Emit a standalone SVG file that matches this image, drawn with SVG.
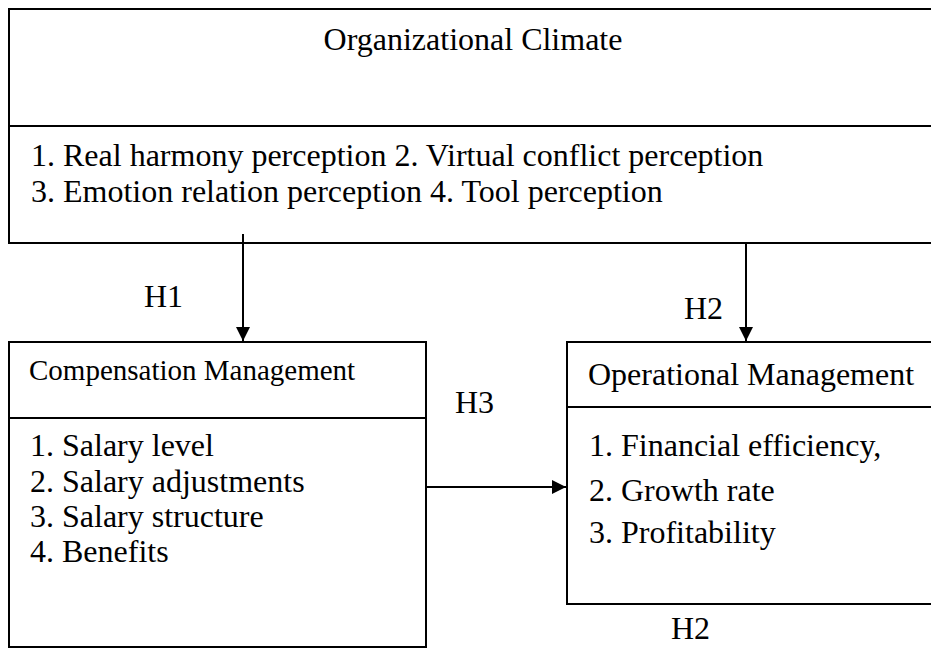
<svg xmlns="http://www.w3.org/2000/svg" width="931" height="650" viewBox="0 0 931 650">
  <style>
    .box { fill: #fff; stroke: #000; stroke-width: 2; }
    .div { stroke: #000; stroke-width: 2; }
    .t { font-family: "Liberation Serif", "Times New Roman", serif; font-size: 32px; fill: #000; }
    .ts { font-family: "Liberation Serif", "Times New Roman", serif; font-size: 29px; fill: #000; }
    .conn { stroke: #000; stroke-width: 2; fill: none; marker-end: url(#arr); }
  </style>
  <defs>
    <marker id="arr" markerUnits="userSpaceOnUse" markerWidth="16" markerHeight="16" viewBox="0 0 16 16" refX="15" refY="8" orient="auto">
      <path d="M1,1 L15,8 L1,15 Z" fill="#000"/>
    </marker>
  </defs>
  <rect width="931" height="650" fill="#fff"/>

  <g id="organizational-climate">
    <rect class="box" x="9" y="9" width="930" height="234"/>
    <line class="div" x1="9" y1="126" x2="939" y2="126"/>
    <text class="t" x="473" y="50" text-anchor="middle">Organizational Climate</text>
    <text class="t" x="31" y="166">1. Real harmony perception 2. Virtual conflict perception</text>
    <text class="t" x="31" y="202">3. Emotion relation perception 4. Tool perception</text>
  </g>

  <g id="compensation-management">
    <rect class="box" x="9" y="342" width="417" height="305"/>
    <line class="div" x1="9" y1="418" x2="426" y2="418"/>
    <text class="ts" x="29" y="380">Compensation Management</text>
    <text class="t" x="30" y="456">1. Salary level</text>
    <text class="t" x="30" y="492">2. Salary adjustments</text>
    <text class="t" x="30" y="527">3. Salary structure</text>
    <text class="t" x="30" y="562">4. Benefits</text>
  </g>

  <g id="operational-management">
    <rect class="box" x="567" y="342" width="372" height="262"/>
    <line class="div" x1="567" y1="407" x2="939" y2="407"/>
    <text class="t" x="588" y="385">Operational Management</text>
    <text class="t" x="589" y="456">1. Financial efficiency,</text>
    <text class="t" x="589" y="501">2. Growth rate</text>
    <text class="t" x="589" y="543">3. Profitability</text>
  </g>

  <g id="connectors">
    <line class="conn" x1="243" y1="234" x2="243" y2="341"/>
    <line class="conn" x1="746" y1="243" x2="746" y2="341"/>
    <line class="conn" x1="426" y1="487" x2="566" y2="487"/>
  </g>

  <g id="labels">
    <text class="t" x="144" y="307">H1</text>
    <text class="t" x="684" y="319">H2</text>
    <text class="t" x="455" y="413">H3</text>
    <text class="t" x="671" y="639">H2</text>
  </g>
</svg>
